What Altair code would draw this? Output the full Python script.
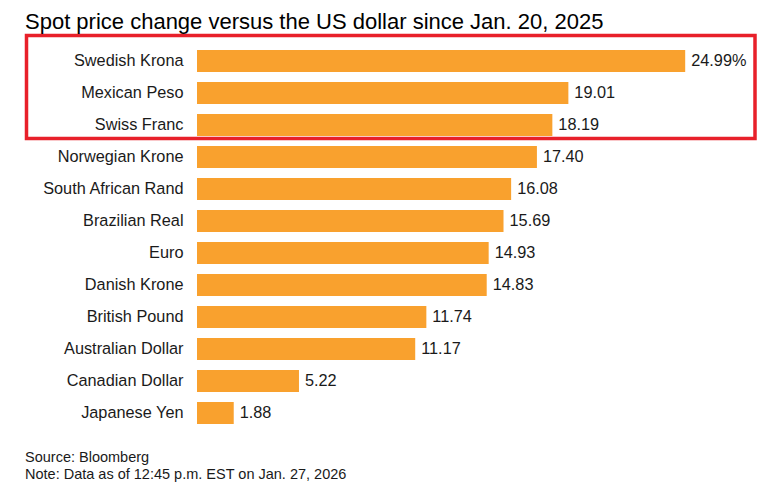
import pandas as pd
import altair as alt

currencies = [
    "Swedish Krona", "Mexican Peso", "Swiss Franc", "Norwegian Krone",
    "South African Rand", "Brazilian Real", "Euro", "Danish Krone",
    "British Pound", "Australian Dollar", "Canadian Dollar", "Japanese Yen",
]
changes = [24.99, 19.01, 18.19, 17.40, 16.08, 15.69, 14.93, 14.83, 11.74, 11.17, 5.22, 1.88]
footer_lines = ["Source: Bloomberg", "Note: Data as of 12:45 p.m. EST on Jan. 27, 2026"]
title_text = "Spot price change versus the US dollar since Jan. 20, 2025"

FONT = "Liberation Sans"
ORANGE = "#F9A12E"
RED = "#E8202A"
INK = "#1a1a1a"

df = pd.DataFrame({"currency": currencies, "change": changes})
df["label"] = [f"{v:.2f}" for v in changes]
df.loc[0, "label"] = df.loc[0, "label"] + "%"

base = alt.Chart(df).encode(
    y=alt.Y("currency:N", sort=currencies,
            scale=alt.Scale(paddingInner=0.3125, paddingOuter=0.15625),
            axis=alt.Axis(title=None, domain=False, ticks=False, grid=False,
                          labelPadding=14, labelFontSize=16.3, labelFont=FONT,
                          labelColor=INK)),
    x=alt.X("change:Q", scale=alt.Scale(domain=[0, 28], nice=False), axis=None),
)

bars = base.mark_bar(color=ORANGE)
values = base.mark_text(align="left", baseline="middle", dx=6, fontSize=16.3,
                        font=FONT, color=INK).encode(text="label:N")

# red box around the top three currencies
box = alt.Chart(df.head(1)).mark_rect(filled=False, stroke=RED, strokeWidth=3.5).encode(
    x=alt.value(-170.5), x2=alt.value(558), y=alt.value(-9.5), y2=alt.value(93.5)
)

footer = alt.Chart(df.head(1)).mark_text(
    align="left", baseline="alphabetic", fontSize=14.5, font=FONT, color=INK, lineHeight=17
).encode(x=alt.value(-172), y=alt.value(417), text=alt.value(footer_lines))

chart = (bars + values + box + footer).properties(
    width=547,
    height=384,
    autosize=alt.AutoSizeParams(type="none"),
    padding={"left": 189, "top": 37, "right": 13, "bottom": 57},
    title=alt.TitleParams(title_text, anchor="start", frame="group", dx=-172,
                          fontSize=22, font=FONT, fontWeight="normal",
                          color="#000000", offset=0),
).configure_view(stroke=None)

chart.save("out.html", embed_options={"renderer": "svg", "actions": False})
